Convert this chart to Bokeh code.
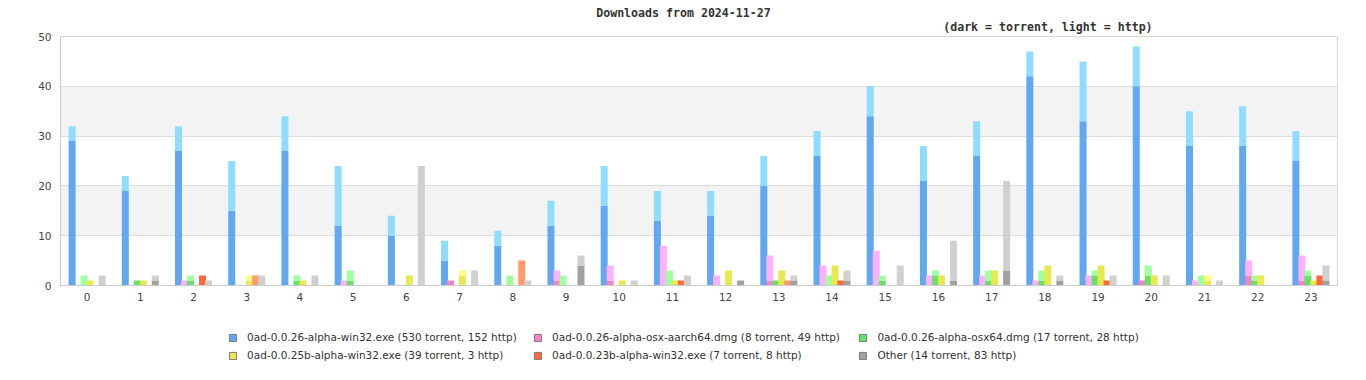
from bokeh.plotting import figure
from bokeh.layouts import column
from bokeh.models import (ColumnDataSource, FactorRange, Range1d, Legend, LegendItem,
                          Title, FixedTicker)
from bokeh.transform import dodge
from bokeh.embed import file_html
from bokeh.resources import INLINE

hours = ["0", "1", "2", "3", "4", "5", "6", "7", "8", "9", "10", "11",
         "12", "13", "14", "15", "16", "17", "18", "19", "20", "21", "22", "23"]

names = ["0ad-0.0.26-alpha-win32.exe", "0ad-0.0.26-alpha-osx-aarch64.dmg",
         "0ad-0.0.26-alpha-osx64.dmg", "0ad-0.0.25b-alpha-win32.exe",
         "0ad-0.0.23b-alpha-win32.exe", "Other"]

win32_26_torrent = [29, 19, 27, 15, 27, 12, 10, 5, 8, 12, 16, 13, 14, 20, 26, 34, 21, 26, 42, 33, 40, 28, 28, 25]
win32_26_http = [3, 3, 5, 10, 7, 12, 4, 4, 3, 5, 8, 6, 5, 6, 5, 6, 7, 7, 5, 12, 8, 7, 8, 6]
aarch64_torrent = [0, 0, 0, 0, 0, 0, 0, 1, 0, 1, 1, 0, 0, 1, 0, 0, 0, 0, 0, 0, 1, 0, 2, 1]
aarch64_http = [0, 0, 1, 0, 0, 1, 0, 0, 0, 2, 3, 8, 2, 5, 4, 7, 2, 2, 1, 2, 0, 1, 3, 5]
osx64_torrent = [0, 1, 1, 0, 1, 1, 0, 0, 0, 0, 0, 0, 0, 1, 0, 1, 2, 1, 1, 2, 2, 0, 1, 2]
osx64_http = [2, 0, 1, 0, 1, 2, 0, 0, 2, 2, 0, 3, 0, 0, 2, 1, 1, 2, 2, 1, 2, 2, 1, 1]
win32_25b_torrent = [1, 1, 0, 1, 1, 0, 2, 2, 0, 0, 1, 1, 3, 3, 4, 0, 2, 3, 4, 4, 2, 1, 2, 1]
win32_25b_http = [0, 0, 0, 1, 0, 0, 0, 1, 0, 0, 0, 0, 0, 0, 0, 0, 0, 0, 0, 0, 0, 1, 0, 0]
win32_23b_torrent = [0, 0, 2, 0, 0, 0, 0, 0, 0, 0, 0, 1, 0, 0, 1, 0, 0, 0, 0, 1, 0, 0, 0, 2]
win32_23b_http = [0, 0, 0, 2, 0, 0, 0, 0, 5, 0, 0, 0, 0, 1, 0, 0, 0, 0, 0, 0, 0, 0, 0, 0]
other_torrent = [0, 1, 0, 0, 0, 0, 0, 0, 0, 4, 0, 0, 1, 1, 1, 0, 1, 3, 1, 0, 0, 0, 0, 1]
other_http = [2, 1, 1, 2, 2, 0, 24, 3, 1, 2, 1, 2, 0, 1, 2, 4, 8, 18, 1, 2, 2, 1, 0, 3]

torrents = [win32_26_torrent, aarch64_torrent, osx64_torrent, win32_25b_torrent, win32_23b_torrent, other_torrent]
https = [win32_26_http, aarch64_http, osx64_http, win32_25b_http, win32_23b_http, other_http]

dark_colors = ["#61a8f0", "#f283c8", "#66e066", "#e8e850", "#ff6a3c", "#a0a0a0"]
light_colors = ["#90dcff", "#ffb0ff", "#a0ffa0", "#ffff80", "#ff9a6a", "#d0d0d0"]
offsets = [-0.282, -0.169, -0.056, 0.056, 0.169, 0.282]
bar_w = 0.132

W = 1366
MAIN_H = 309
LEG_H = 71

# ---- main chart ----
p = figure(width=W, height=MAIN_H, x_range=FactorRange(factors=hours), y_range=Range1d(0, 50),
           output_backend="svg", toolbar_location=None,
           min_border_left=60, min_border_right=29, min_border_top=36, min_border_bottom=24)

p.background_fill_color = "white"
p.border_fill_color = "white"
p.outline_line_color = "#d8d8d8"

title_style = dict(text_font="DejaVu Sans Mono", text_font_style="bold", text_font_size="11.6px",
                   text_color="#333333", align="left")
p.add_layout(Title(text="(dark = torrent, light = http)", offset=882.7, standoff=1,
                   vertical_align="top", **title_style), "above")
p.add_layout(Title(text="Downloads from 2024-11-27", offset=535.7, standoff=0,
                   vertical_align="bottom", **title_style), "above")

p.xgrid.grid_line_color = None
p.ygrid.grid_line_color = "#dcdcdc"
p.ygrid.band_fill_color = "#f3f3f3"
p.ygrid.band_fill_alpha = 1.0

p.yaxis.ticker = FixedTicker(ticks=[0, 10, 20, 30, 40, 50])
for ax in (p.xaxis[0], p.yaxis[0]):
    ax.axis_line_color = "#cccccc"
    ax.major_tick_line_color = None
    ax.minor_tick_line_color = None
    ax.major_tick_out = 0
    ax.major_tick_in = 0
    ax.major_label_text_font = "DejaVu Sans"
    ax.major_label_text_font_size = "10.5px"
    ax.major_label_text_color = "#444444"
p.yaxis.major_label_standoff = 9
p.xaxis.major_label_standoff = 7

# ---- legend strip ----
leg_fig = figure(width=W, height=LEG_H, x_range=Range1d(0, 1), y_range=Range1d(0, 1),
                 x_axis_type=None, y_axis_type=None, output_backend="svg",
                 toolbar_location=None, min_border=0)
leg_fig.outline_line_color = None
leg_fig.xgrid.grid_line_color = None
leg_fig.ygrid.grid_line_color = None
hour_pos = list(range(len(hours)))

legend_items = []
for i in range(6):
    t = torrents[i]
    h = https[i]
    src = ColumnDataSource(dict(hour=hours, torrent=t, total=[a + b for a, b in zip(t, h)]))
    xs = dodge("hour", offsets[i], range=p.x_range)
    p.vbar(x=xs, width=bar_w, bottom=0, top="torrent", source=src,
           fill_color=dark_colors[i], line_color=None)
    p.vbar(x=xs, width=bar_w, bottom="torrent", top="total", source=src,
           fill_color=light_colors[i], line_color=None)
    # hidden renderer that only supplies the legend swatch
    leg_src = ColumnDataSource(dict(x=hour_pos, top=t))
    leg_r = leg_fig.vbar(x="x", width=0.1, bottom=0, top="top", source=leg_src,
                         fill_color=dark_colors[i], line_color="#7a7a7a", line_width=1,
                         visible=False)
    label = f"{names[i]} ({sum(t)} torrent, {sum(h)} http)"
    legend_items.append(LegendItem(label=label, renderers=[leg_r]))

col_x = [168.1, 473.1, 798.4]
row_y = [36.9, 18.9]
for i, item in enumerate(legend_items):
    leg = Legend(items=[item], location=(col_x[i % 3], row_y[i // 3]),
                 padding=0, margin=0, border_line_color=None, background_fill_alpha=0,
                 glyph_width=9, glyph_height=9, label_height=9, label_standoff=10,
                 inactive_fill_alpha=0,
                 label_text_font="DejaVu Sans", label_text_font_size="10.5px",
                 label_text_color="#333333", label_text_baseline="middle")
    leg_fig.add_layout(leg, "center")

layout = column(p, leg_fig, spacing=0)
open("out.html", "w").write(file_html(layout, INLINE))
